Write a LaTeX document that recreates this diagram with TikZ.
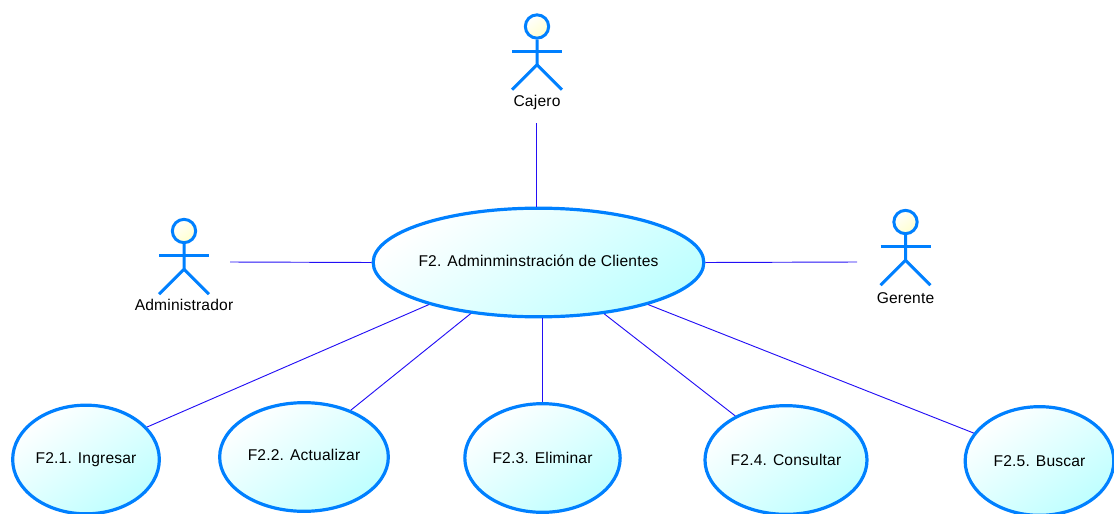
\documentclass[tikz,border=0pt]{standalone}
\usepackage{fontspec}
\setmainfont[LetterSpace=1.2]{Liberation Sans}
\usetikzlibrary{shapes.geometric}
\definecolor{actorblue}{RGB}{0,128,255}
\definecolor{linkblue}{RGB}{35,15,245}
\definecolor{casecyan}{RGB}{190,255,255}
\definecolor{headyellow}{RGB}{255,255,205}
\tikzset{
  usecase/.style={ellipse,draw=actorblue,line width=2.4pt,inner sep=0pt,
    top color=white,bottom color=casecyan,shading angle=35,
    font=\fontsize{11.7}{13}\selectfont,minimum height=81.5pt},
  actorline/.style={draw=actorblue,line width=2.25pt},
  actorhead/.style={circle,draw=actorblue,line width=2.25pt,inner sep=0pt,minimum size=17.5pt,
    top color=white,bottom color=headyellow,shading angle=35},
  actorlabel/.style={inner sep=0pt,font=\fontsize{11.7}{13}\selectfont},
  link/.style={draw=linkblue,line width=0.7pt}
}
\begin{document}
\begin{tikzpicture}[x=0.75pt,y=-0.75pt]
\useasboundingbox (0,0) rectangle (1114,514);

% ellipses first, links stop at their borders
\node (main) [usecase,minimum width=248pt,text depth=2.5pt,inner xsep=-6pt] at (538.5,262.5) {F2. Adminminstración de Clientes};
\node (ingresar) [usecase,minimum width=110pt] at (86,459.5) {F2.1. Ingresar};
\node (actualizar) [usecase,minimum width=126.5pt,text depth=2.5pt] at (304,457) {F2.2. Actualizar};
\node (eliminar) [usecase,minimum width=116.5pt] at (542.5,458) {F2.3. Eliminar};
\node (consultar) [usecase,minimum width=121.5pt] at (786,460) {F2.4. Consultar};
\node (buscar) [usecase,minimum width=111.5pt] at (1039.5,461) {F2.5. Buscar};

% actors
\foreach \name/\x/\y/\txt/\ly in {cajero/537/26.5/Cajero/102,administrador/184/231/Administrador/305,gerente/905.5/222/Gerente/298}{
    \node (\name head) [actorhead] at (\x,\y) {};
    \draw [actorline] (\name head.south) -- ++(0,25) coordinate (\name hip) -- ++(-25,25);
    \draw [actorline] (\name hip) -- ++(25,25);
    \draw [actorline] (\x-25,\y+24.5) -- (\x+25,\y+24.5);
    \node (\name) [actorlabel] at (\x,\ly) {\txt};
}

\coordinate (cajeroend) at (536.7,123);
\coordinate (adminend) at (230,262);
\coordinate (gerenteend) at (857,262);

\draw [link] (cajeroend) -- (cajeroend |- main.north);
\draw [link] (adminend) -- (main.west);
\draw [link] (gerenteend) -- (main.east);
\draw [link] (eliminar.north) -- (eliminar.north |- main.south);
\foreach \uc/\from/\to in {ingresar/201.8/28,actualizar/217.8/45.6,consultar/322.7/139.2,buscar/339.1/157.3}
    \draw [link] (main.\from) -- (\uc.\to);

\end{tikzpicture}
\end{document}
